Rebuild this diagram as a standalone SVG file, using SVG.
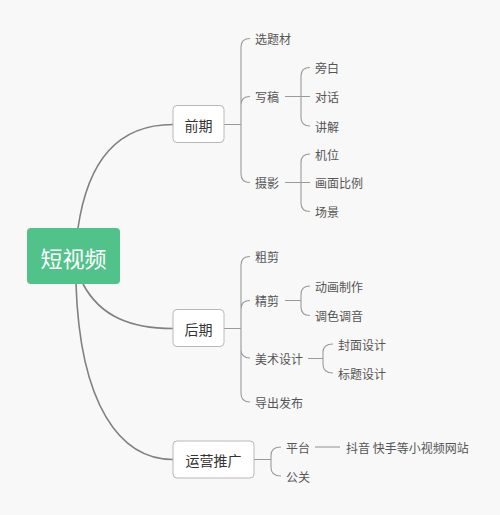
<svg xmlns="http://www.w3.org/2000/svg" width="500" height="515" viewBox="0 0 500 515">
<style>
text{font-family:"Noto Sans CJK SC","Liberation Sans",sans-serif;dominant-baseline:central}
.main{fill:none;stroke:#808080;stroke-width:1.6}
.br{fill:none;stroke:#9a9a9a;stroke-width:1.1}
.box{fill:#ffffff;stroke:#b8b8b8;stroke-width:1}
.bt{font-size:14px;fill:#333;text-anchor:middle}
.ct{font-size:12px;fill:#555}
</style>
<rect width="500" height="515" fill="#f8f8f8"/>
<g id="connectors">
<path class="main" d="M78 228 C88 160 118 124.5 173 124.5"/>
<path class="main" d="M83 284 C100 316 130 328.5 173 328.5"/>
<path class="main" d="M76 284 C80 405 120 459.5 173 459.5"/>
<!-- 前期 -->
<path class="br" d="M224 124.5 H241 M250 38.5 Q241 38.5 241 47 V174 Q241 182.5 250 182.5 M241 105 Q241 96.5 250 96.5"/>
<!-- 写稿 -->
<path class="br" d="M285 96.5 H310 M310 67.5 Q301 67.5 301 76 V117.5 Q301 126 310 126"/>
<!-- 摄影 -->
<path class="br" d="M285 182.5 H310 M310 154 Q301 154 301 162.5 V203 Q301 211.5 310 211.5"/>
<!-- 后期 -->
<path class="br" d="M224 328.5 H241 M250 256.5 Q241 256.5 241 265 V393.5 Q241 402 250 402 M241 309 Q241 300.5 250 300.5 M241 349.5 Q241 358 250 358"/>
<!-- 精剪 -->
<path class="br" d="M285 300.5 H301 M310 286 Q301 286 301 294.5 V307 Q301 315.5 310 315.5"/>
<!-- 美术设计 -->
<path class="br" d="M308 358.5 H323 M333 344 Q323 344 323 352.5 V364.5 Q323 373 333 373"/>
<!-- 运营推广 -->
<path class="br" d="M254 459.5 H271 M281 447 Q271 447 271 455.5 V467.5 Q271 476 281 476"/>
<!-- 平台 -->
<path class="br" d="M315 447 H340"/>
</g>
<g id="root">
<rect x="27" y="228" width="93" height="56" rx="4" fill="#50c28a"/>
<text x="73.5" y="257" font-size="22" fill="#fff" text-anchor="middle">短视频</text>
</g>
<g id="qianqi"><rect class="box" x="173" y="105.5" width="51" height="37" rx="4"/><text class="bt" x="198.5" y="124.5">前期</text></g>
<g id="houqi"><rect class="box" x="173" y="309.5" width="51" height="37" rx="4"/><text class="bt" x="198.5" y="328.5">后期</text></g>
<g id="yunying"><rect class="box" x="173" y="441" width="81" height="37" rx="4"/><text class="bt" x="213.5" y="459.5">运营推广</text></g>
<g id="xuanticai"><text class="ct" x="255" y="38.5">选题材</text></g>
<g id="xiegao"><text class="ct" x="255" y="96.5">写稿</text></g>
<g id="sheying"><text class="ct" x="255" y="182.5">摄影</text></g>
<g id="pangbai"><text class="ct" x="315" y="67.5">旁白</text></g>
<g id="duihua"><text class="ct" x="315" y="96.5">对话</text></g>
<g id="jiangjie"><text class="ct" x="315" y="126">讲解</text></g>
<g id="jiwei"><text class="ct" x="315" y="154">机位</text></g>
<g id="huamian"><text class="ct" x="315" y="182.5">画面比例</text></g>
<g id="changjing"><text class="ct" x="315" y="211.5">场景</text></g>
<g id="cujian"><text class="ct" x="255" y="256.5">粗剪</text></g>
<g id="jingjian"><text class="ct" x="255" y="300.5">精剪</text></g>
<g id="meishu"><text class="ct" x="255" y="358">美术设计</text></g>
<g id="daochu"><text class="ct" x="255" y="402">导出发布</text></g>
<g id="donghua"><text class="ct" x="315" y="286">动画制作</text></g>
<g id="tiaose"><text class="ct" x="315" y="315.5">调色调音</text></g>
<g id="fengmian"><text class="ct" x="338" y="344">封面设计</text></g>
<g id="biaoti"><text class="ct" x="338" y="373">标题设计</text></g>
<g id="pingtai"><text class="ct" x="286" y="447">平台</text></g>
<g id="gongguan"><text class="ct" x="286" y="476">公关</text></g>
<g id="douyin"><text class="ct" x="346" y="447">抖音 快手等小视频网站</text></g>
</svg>
